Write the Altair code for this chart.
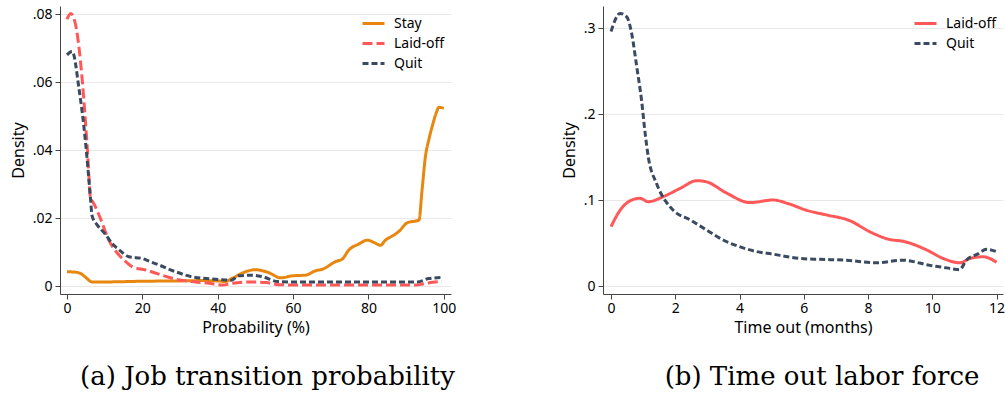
import altair as alt
import pandas as pd

# Panel (a): kernel densities of the job transition probability (%)
stay_x = [0, 2, 3.6, 5, 6.7, 10, 20, 30, 36, 40, 42, 43.9, 47.4, 50, 53.6, 56.7, 59.8, 63.3, 66, 67.7,
          71.3, 73, 74.8, 77.5, 79.7, 81.5, 83.2, 84.5, 86.3, 88, 90.3, 93.4, 94.2, 95.1, 96.0, 96.9,
          98.0, 98.7, 100]
stay_y = [0.0042, 0.0041, 0.0037, 0.0025, 0.0012, 0.0012, 0.0014, 0.0015, 0.0016, 0.0015, 0.0013,
          0.0023, 0.0042, 0.0048, 0.0039, 0.0024, 0.0030, 0.0032, 0.0045, 0.0049, 0.0072, 0.0079,
          0.0106, 0.0124, 0.0135, 0.0128, 0.0120, 0.0135, 0.0147, 0.0160, 0.0186, 0.0194, 0.0280,
          0.0380, 0.0430, 0.0469, 0.0510, 0.0526, 0.0523]

laid_x = [0, 1, 2.3, 4.1, 5.4, 6.3, 6.7, 8.5, 11.1, 13.8, 15.6, 17.3, 20.9, 24.4, 28.8, 33.2, 37.7,
          41.2, 43.9, 49, 53, 56, 60, 70, 80, 90, 92.5, 95, 97, 99.5]
laid_y = [0.0785, 0.0802, 0.0768, 0.0600, 0.0405, 0.0255, 0.0250, 0.0209, 0.0135, 0.0091, 0.0072,
          0.0057, 0.0047, 0.0035, 0.0020, 0.0013, 0.0008, 0.0003, 0.0008, 0.0012, 0.0010, 0.0004,
          0.0003, 0.0003, 0.0003, 0.0003, 0.0003, 0.0007, 0.0011, 0.0013]

quit_x = [0, 1.4, 3.2, 5, 6.1, 6.7, 8, 10, 12, 14, 16.4, 20, 22, 24.4, 28.8, 33.2, 37, 42, 43.5,
          45.6, 49, 52, 56, 60, 70, 80, 90, 93, 96, 99.5]
quit_y = [0.068, 0.069, 0.058, 0.0415, 0.0277, 0.0205, 0.018, 0.0155, 0.0125, 0.0105, 0.0086,
          0.0081, 0.0072, 0.0062, 0.0042, 0.0027, 0.0022, 0.0018, 0.0017, 0.0030, 0.0032, 0.0027,
          0.0013, 0.0012, 0.0012, 0.0012, 0.0012, 0.0012, 0.0022, 0.0025]

# Panel (b): kernel densities of time out of the labor force (months)
laid_b_x = [0, 0.28, 0.59, 0.9, 1.16, 1.63, 2.15, 2.67, 2.98, 3.6, 4.32, 5.05, 5.5, 6.09, 6.71,
            7.43, 8.06, 8.68, 9.09, 9.82, 10.34, 10.86, 11.17, 11.58, 12.0]
laid_b_y = [0.069, 0.088, 0.099, 0.102, 0.098, 0.104, 0.1135, 0.1225, 0.121, 0.108, 0.097, 0.100,
            0.096, 0.088, 0.0826, 0.076, 0.063, 0.054, 0.052, 0.042, 0.032, 0.027, 0.032, 0.034,
            0.0276]

quit_b_x = [0, 0.28, 0.49, 0.64, 0.8, 0.95, 1.06, 1.16, 1.42, 1.94, 2.46, 2.98, 3.49, 4.0, 4.53,
            5.05, 5.5, 5.88, 6.5, 7.33, 8.26, 9.09, 9.92, 10.3, 10.65, 10.85, 11.06, 11.4, 11.69, 12.0]
quit_b_y = [0.296, 0.317, 0.313, 0.294, 0.255, 0.216, 0.178, 0.150, 0.119, 0.088, 0.077, 0.065,
            0.0535, 0.0457, 0.040, 0.037, 0.034, 0.032, 0.031, 0.030, 0.027, 0.030, 0.024, 0.022,
            0.0198, 0.019, 0.030, 0.037, 0.0426, 0.040]

series_a = ["Stay", "Laid-off", "Quit"]
series_b = ["Laid-off", "Quit"]
y_ticks_a = [0, 0.02, 0.04, 0.06, 0.08]
y_ticks_b = [0, 0.1, 0.2, 0.3]
x_ticks_a = [0, 20, 40, 60, 80, 100]
x_ticks_b = [0, 2, 4, 6, 8, 10, 12]

ORANGE = "#E8870F"
RED = "#FF5858"
NAVY = "#394A61"


def frame(name, xs, ys):
    return pd.DataFrame({"series": name, "x": xs, "y": ys})


df_a = pd.concat([frame("Stay", stay_x, stay_y),
                  frame("Laid-off", laid_x, laid_y),
                  frame("Quit", quit_x, quit_y)], ignore_index=True)
df_b = pd.concat([frame("Laid-off", laid_b_x, laid_b_y),
                  frame("Quit", quit_b_x, quit_b_y)], ignore_index=True)

SANS = "Noto Sans"


def x_axis(title, ticks):
    return alt.Axis(title=title, values=ticks, grid=False, domainColor="#444", tickColor="#444",
                    tickSize=5, labelFont=SANS, labelFontSize=14, labelColor="black",
                    labelPadding=2, titleFont=SANS, titleFontSize=16, titleFontWeight="normal",
                    titleColor="black", titlePadding=4)


def y_axis(ticks, fmt):
    expr = f"datum.value == 0 ? '0' : replace(format(datum.value, '{fmt}'), '0.', '.')"
    return alt.Axis(title="Density", values=ticks, labelExpr=expr, grid=True, gridColor="#E8E8E8",
                    gridWidth=1, domainColor="#444", tickColor="#444", tickSize=5, labelFont=SANS,
                    labelFontSize=14, labelColor="black", labelPadding=3, titleFont=SANS,
                    titleFontSize=16, titleFontWeight="normal", titleColor="black", titlePadding=6)


def legend(x, y):
    return alt.Legend(title=None, orient="none", legendX=x, legendY=y, symbolType="stroke",
                      symbolSize=484, symbolStrokeWidth=3, labelFont=SANS, labelFontSize=14,
                      labelColor="black", labelOffset=8, rowPadding=-5, padding=0)


def caption(text, dx):
    return alt.TitleParams(text, orient="bottom", anchor="middle", font="DejaVu Serif",
                           fontSize=26, fontWeight="normal", color="black", offset=29, dx=dx)


leg_a = legend(301, 5)
chart_a = alt.Chart(df_a, title=caption("(a) Job transition probability", 12)).mark_line(
    strokeWidth=3, interpolate="monotone"
).encode(
    x=alt.X("x:Q", scale=alt.Scale(domain=[-1.85, 101.9], nice=False, zero=False),
            axis=x_axis("Probability (%)", x_ticks_a)),
    y=alt.Y("y:Q", scale=alt.Scale(domain=[-0.00235, 0.0824], nice=False, zero=False),
            axis=y_axis(y_ticks_a, ".2f")),
    color=alt.Color("series:N", sort=series_a,
                    scale=alt.Scale(domain=series_a, range=[ORANGE, RED, NAVY]), legend=leg_a),
    strokeDash=alt.StrokeDash("series:N", sort=series_a,
                              scale=alt.Scale(domain=series_a, range=[[1, 0], [10, 4], [6, 3]]),
                              legend=leg_a),
).properties(width=391, height=288)

leg_b = legend(310, 5)
chart_b = alt.Chart(df_b, title=caption("(b) Time out labor force", 19)).mark_line(
    strokeWidth=3, interpolate="monotone"
).encode(
    x=alt.X("x:Q", scale=alt.Scale(domain=[-0.25, 12.2], nice=False, zero=False),
            axis=x_axis("Time out (months)", x_ticks_b)),
    y=alt.Y("y:Q", scale=alt.Scale(domain=[-0.0093, 0.3256], nice=False, zero=False),
            axis=y_axis(y_ticks_b, ".1f")),
    color=alt.Color("series:N", sort=series_b,
                    scale=alt.Scale(domain=series_b, range=[RED, NAVY]), legend=leg_b),
    strokeDash=alt.StrokeDash("series:N", sort=series_b,
                              scale=alt.Scale(domain=series_b, range=[[1, 0], [6, 3]]),
                              legend=leg_b),
).properties(width=400, height=288)

chart = alt.hconcat(chart_a, chart_b, spacing=105).resolve_scale(
    color="independent", strokeDash="independent"
).resolve_legend(
    color="independent", strokeDash="independent"
).properties(
    padding={"left": 10, "top": 6, "right": 0, "bottom": 0},
    background="white",
).configure_view(stroke=None)

chart.save("out.html", embed_options={"renderer": "svg", "actions": False})
